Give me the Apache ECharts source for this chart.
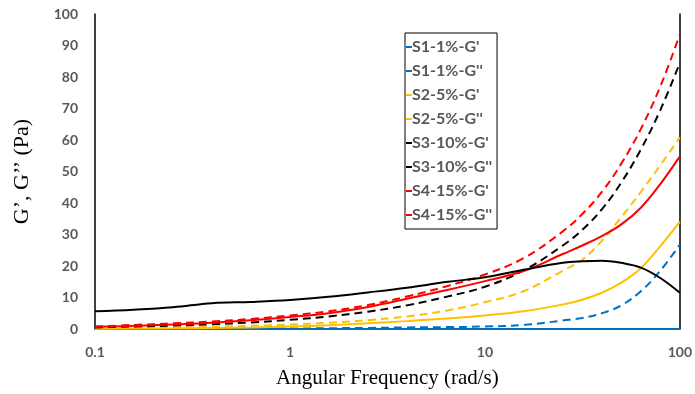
<!DOCTYPE html>
<html>
<head>
<meta charset="utf-8">
<script src="https://cdn.jsdelivr.net/npm/echarts@6/dist/echarts.min.js"></script>
<style>
html,body{margin:0;padding:0;background:#fff;}
#chart{width:695px;height:394px;}
</style>
</head>
<body>
<div id="chart"></div>
<script>
const freq = [0.1, 0.158, 0.251, 0.398, 0.631, 1, 1.58, 2.51, 3.98, 6.31, 10, 15.8, 25.1, 31.6, 39.8, 50.1, 63.1, 79.4, 100];
const seriesNames = ["S1-1%-G'", "S1-1%-G''", "S2-5%-G'", "S2-5%-G''", "S3-10%-G'", "S3-10%-G''", "S4-15%-G'", "S4-15%-G''"];
const s1G1 = [0, 0, 0, 0, 0, 0, 0, 0, 0, 0, 0, 0, 0, 0, 0, 0, 0, 0, 0];
const s1G2 = [0, 0, 0, 0.05, 0.1, 0.15, 0.25, 0.35, 0.5, 0.6, 0.8, 1.3, 2.7, 3.5, 5.0, 7.5, 12.0, 18.5, 26.8];
const s2G1 = [0.1, 0.15, 0.2, 0.35, 0.5, 0.8, 1.2, 1.8, 2.5, 3.3, 4.3, 5.6, 7.8, 9.3, 11.5, 14.7, 19.3, 26.3, 34.0];
const s2G2 = [0.2, 0.3, 0.5, 0.7, 1.0, 1.4, 2.0, 2.8, 4.0, 5.8, 8.5, 12.0, 18.5, 22.0, 28.0, 35.5, 43.5, 52.0, 60.8];
const s3G1 = [5.6, 6.1, 6.9, 8.2, 8.6, 9.2, 10.2, 11.6, 13.1, 14.9, 16.4, 18.8, 21.0, 21.5, 21.7, 21.0, 19.5, 16.2, 11.5];
const s3G2 = [0.5, 0.8, 1.1, 1.5, 2.1, 2.9, 4.0, 5.5, 7.5, 10.2, 13.4, 18.6, 26.5, 31.5, 38.0, 46.5, 57.0, 69.5, 84.5];
const s4G1 = [0.7, 1.0, 1.4, 2.0, 2.8, 3.8, 5.0, 7.0, 9.6, 12.3, 15.2, 18.4, 23.8, 26.5, 29.5, 33.2, 38.5, 46.0, 54.8];
const s4G2 = [0.8, 1.3, 1.8, 2.4, 3.2, 4.3, 5.6, 7.6, 10.3, 13.5, 17.3, 22.5, 31.0, 36.5, 43.5, 52.5, 63.5, 77.0, 93.5];
const xTickLabels = {0.1: '0.1', 1: '1', 10: '10', 100: '100'};

const values = [s1G1, s1G2, s2G1, s2G2, s3G1, s3G2, s4G1, s4G2];
const colors = ['#0070C0', '#0070C0', '#FFC000', '#FFC000', '#000000', '#000000', '#FF0000', '#FF0000'];
const dashed = [false, true, false, true, false, true, false, true];

const chart = echarts.init(document.getElementById('chart'));
const tickFont = {color: '#595959', fontFamily: 'Lato', fontWeight: 'bold', fontSize: 14};

const series = values.map((v, i) => ({
  name: seriesNames[i],
  type: 'line',
  data: freq.map((f, j) => [f, v[j]]),
  smooth: 0.4,
  symbol: 'none',
  z: i === 4 ? 5 : 3,
  color: colors[i],
  lineStyle: {color: colors[i], width: 2, type: dashed[i] ? [8, 5] : 'solid'}
}));

chart.setOption({
  animation: false,
  backgroundColor: '#fff',
  grid: {left: 95, right: 15, top: 14, bottom: 65},
  legend: {
    orient: 'vertical',
    left: 405,
    top: 33,
    width: 97,
    data: seriesNames.map((n, i) => ({name: n, icon: 'rect', itemStyle: {color: colors[i]}})),
    itemWidth: 6,
    itemHeight: 2,
    itemGap: 8,
    padding: [6, 5, 6, 1],
    borderColor: '#000',
    borderWidth: 1,
    textStyle: {color: '#595959', fontFamily: 'Lato', fontWeight: 'bold', fontSize: 16, lineHeight: 16, padding: [0, 0, 0, -5]}
  },
  xAxis: [{
    type: 'log',
    logBase: 10,
    min: 0.1,
    max: 100,
    name: 'Angular Frequency (rad/s)',
    nameLocation: 'middle',
    nameGap: 39,
    nameTextStyle: {fontFamily: 'Liberation Serif', fontSize: 21, color: '#000'},
    axisLine: {show: true, onZero: false, lineStyle: {color: '#7f7f7f', width: 1}},
    axisTick: {show: false},
    splitLine: {show: false},
    axisLabel: Object.assign({margin: 16, formatter: v => xTickLabels[v] !== undefined ? xTickLabels[v] : String(v)}, tickFont)
  }, {
    type: 'log', logBase: 10, min: 0.1, max: 100, position: 'top',
    axisLine: {show: true, lineStyle: {color: '#808080', width: 1}},
    axisTick: {show: false}, axisLabel: {show: false}, splitLine: {show: false}
  }],
  yAxis: [{
    type: 'value',
    min: 0,
    max: 100,
    interval: 10,
    name: 'G\u2019, G\u2019\u2019 (Pa)',
    nameLocation: 'middle',
    nameGap: 62,
    nameTextStyle: {fontFamily: 'Liberation Serif', fontSize: 22, color: '#000'},
    axisLine: {show: true, lineStyle: {color: '#000', width: 1.5}},
    axisTick: {show: false},
    splitLine: {show: false},
    axisLabel: Object.assign({margin: 17}, tickFont)
  }, {
    type: 'value', min: 0, max: 100, position: 'right',
    axisLine: {show: true, lineStyle: {color: '#000', width: 1.5}},
    axisTick: {show: false}, axisLabel: {show: false}, splitLine: {show: false}
  }],
  series: series
});
</script>
</body>
</html>
